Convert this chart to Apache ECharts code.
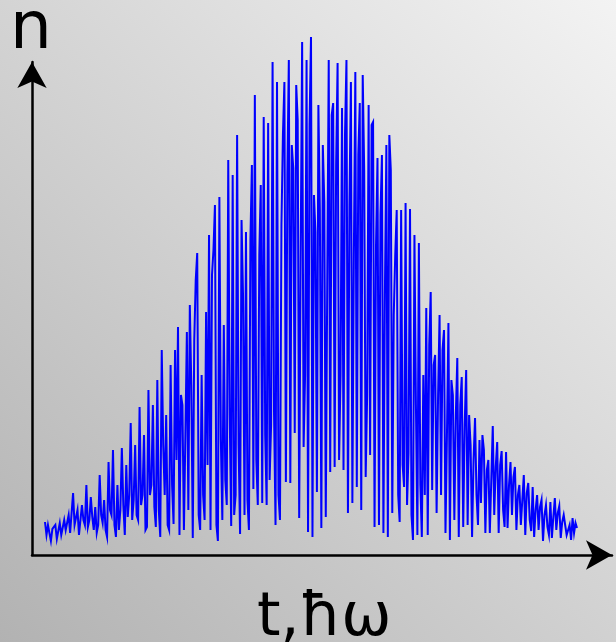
<!DOCTYPE html>
<html>
<head>
<meta charset="utf-8">
<script src="https://cdn.jsdelivr.net/npm/echarts@6/dist/echarts.min.js"></script>
<style>html,body{margin:0;padding:0;}#c{width:616px;height:642px;}</style>
</head>
<body>
<div id="c"></div>
<script>
// signal heights n(t), left to right
const nValues = [
  33, 20, 30, 28, 14, 26, 24, 30, 16, 18, 32, 20, 22, 35, 25,
  26, 40, 22, 20, 62, 30, 28, 45, 20, 22, 50, 35, 30, 70, 28,
  35, 58, 38, 25, 48, 22, 30, 80, 40, 32, 55, 25, 18, 93, 45,
  40, 105, 30, 18, 70, 25, 45, 107, 50, 20, 90, 38, 60, 132, 35,
  55, 110, 40, 35, 148, 50, 60, 120, 25, 28, 165, 60, 70, 150, 48,
  28, 175, 45, 18, 205, 110, 60, 140, 30, 25, 190, 70, 31, 205, 95,
  228, 20, 160, 150, 25, 120, 223, 45, 250, 170, 17, 215, 275, 302, 40,
  25, 180, 60, 35, 243, 90, 320, 25, 280, 305, 350, 30, 14, 358, 115,
  35, 230, 75, 50, 395, 140, 29, 380, 40, 60, 420, 110, 21, 335, 260,
  40, 323, 55, 25, 315, 390, 66, 460, 95, 50, 300, 370, 52, 438, 120,
  50, 432, 75, 130, 493, 140, 30, 473, 60, 35, 330, 420, 473, 73, 380,
  495, 72, 410, 387, 122, 470, 435, 37, 300, 513, 108, 180, 495, 23, 430,
  518, 18, 360, 323, 63, 450, 345, 27, 410, 353, 38, 275, 495, 83, 440,
  452, 88, 390, 492, 95, 180, 447, 85, 420, 495, 42, 350, 473, 52, 300,
  483, 68, 400, 452, 45, 480, 385, 78, 160, 450, 100, 430, 433, 28, 310,
  397, 30, 340, 400, 22, 260, 410, 18, 420, 385, 42, 240, 300, 345, 60,
  33, 345, 90, 68, 352, 50, 102, 346, 40, 15, 320, 150, 20, 312, 70,
  18, 180, 60, 247, 20, 210, 263, 65, 190, 200, 42, 160, 240, 60, 205,
  225, 22, 120, 232, 15, 175, 160, 35, 140, 197, 18, 150, 178, 28, 130,
  185, 30, 140, 110, 18, 95, 137, 60, 30, 115, 52, 120, 105, 22, 85,
  95, 22, 75, 129, 40, 88, 113, 22, 90, 104, 45, 28, 103, 27, 70,
  93, 40, 78, 88, 25, 60, 70, 30, 55, 80, 20, 62, 72, 35, 24,
  68, 18, 45, 60, 25, 48, 55, 14, 40, 50, 28, 20, 53, 17, 38,
  57, 25, 42, 49, 17, 33, 40, 39, 20, 18, 30, 15, 37, 22, 32, 27
];
const steps = nValues.map((_, i) => i);
const yLabel = 'n';
const xLabel = 't,\u0127\u03C9';

const chart = echarts.init(document.getElementById('c'), null, {renderer: 'canvas'});
const hidden = {show: false};
chart.setOption({
  animation: false,
  graphic: [
    {type: 'rect', z: -10, shape: {x: 0, y: 0, width: 616, height: 642},
     style: {fill: new echarts.graphic.LinearGradient(0, 1, 1, 0, [
       {offset: 0, color: '#b2b2b2'}, {offset: 1, color: '#f3f3f3'}])}},
    {type: 'text', x: 10, y: 64, style: {text: yLabel, font: '66px "DejaVu Sans"', fill: '#000', verticalAlign: 'bottom'}},
    {type: 'text', x: 257, y: 649, style: {text: xLabel, font: '60px "DejaVu Sans"', fill: '#000', verticalAlign: 'bottom'}}
  ],
  grid: [
    {left: 32, right: 4, top: 62, bottom: 87},
    {left: 45, right: 39, top: 35, bottom: 87}
  ],
  xAxis: [
    {gridIndex: 0, type: 'value', min: 0, max: 1,
     axisLine: {show: true, onZero: false, symbol: ['none', 'arrow'], symbolSize: [22, 26], lineStyle: {color: '#000', width: 2.5}},
     axisTick: hidden, axisLabel: hidden, splitLine: hidden},
    {gridIndex: 1, type: 'category', data: steps, boundaryGap: false,
     axisLine: hidden, axisTick: hidden, axisLabel: hidden, splitLine: hidden}
  ],
  yAxis: [
    {gridIndex: 0, type: 'value', min: 0, max: 1,
     axisLine: {show: true, onZero: false, symbol: ['none', 'arrow'], symbolSize: [22, 26], lineStyle: {color: '#000', width: 2.5}},
     axisTick: hidden, axisLabel: hidden, splitLine: hidden},
    {gridIndex: 1, type: 'value', min: 0, max: 520,
     axisLine: hidden, axisTick: hidden, axisLabel: hidden, splitLine: hidden}
  ],
  series: [{
    type: 'line', xAxisIndex: 1, yAxisIndex: 1, data: nValues,
    showSymbol: false, symbol: 'none', clip: false,
    lineStyle: {color: '#0000ff', width: 2, join: 'miter'}
  }]
});
</script>
</body>
</html>
